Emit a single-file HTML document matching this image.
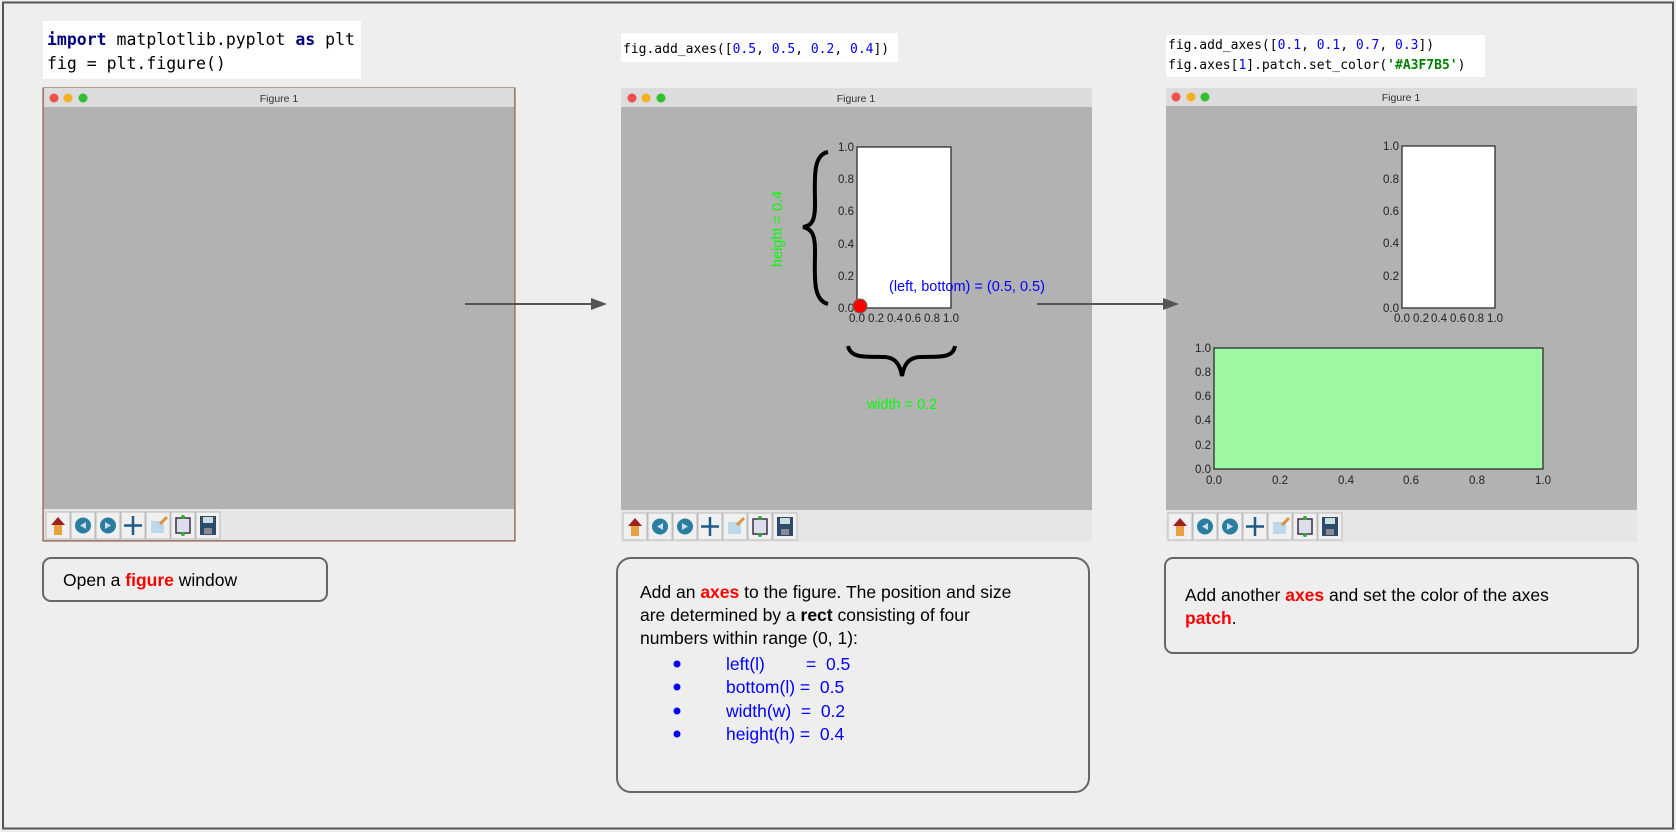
<!DOCTYPE html>
<html><head><meta charset="utf-8"><style>
html,body{margin:0;padding:0;background:#eeeeee;}
svg{display:block;}
text{white-space:pre;}
.m{font-family:"DejaVu Sans Mono","Liberation Mono",monospace;}
.s{font-family:"Liberation Sans",Arial,sans-serif;}
.tk{font-family:"Liberation Sans",Arial,sans-serif;font-size:11.5px;fill:#222;}
</style></head><body>
<svg width="1676" height="832" viewBox="0 0 1676 832" xmlns="http://www.w3.org/2000/svg" xml:space="preserve">
<defs>
<g id="tb">
  <rect x="0" y="0" width="24" height="27" fill="#f0f0f0" stroke="#bbb"/>
  <path d="M5 13 L12 5 L19 13 Z" fill="#a02020"/><rect x="8" y="13" width="8" height="10" fill="#e8a040"/>
  <rect x="25" y="0" width="24" height="27" fill="#f0f0f0" stroke="#bbb"/>
  <circle cx="37" cy="13.5" r="8" fill="#2a7fa0"/><path d="M40 10 L34 13.5 L40 17Z" fill="#cde"/>
  <rect x="50" y="0" width="24" height="27" fill="#f0f0f0" stroke="#bbb"/>
  <circle cx="62" cy="13.5" r="8" fill="#2a7fa0"/><path d="M59 10 L65 13.5 L59 17Z" fill="#cde"/>
  <rect x="75" y="0" width="24" height="27" fill="#f0f0f0" stroke="#bbb"/>
  <path d="M87 4 V23 M78 13.5 H96" stroke="#1e5a8a" stroke-width="2.5"/>
  <rect x="100" y="0" width="24" height="27" fill="#f0f0f0" stroke="#bbb"/>
  <rect x="105" y="9" width="13" height="12" fill="#bcd8ea"/><path d="M114 12 L121 5" stroke="#e09040" stroke-width="3"/>
  <rect x="125" y="0" width="24" height="27" fill="#f0f0f0" stroke="#bbb"/>
  <rect x="130" y="6" width="14" height="15" fill="#dde" stroke="#334" stroke-width="1.5"/><circle cx="137" cy="5" r="2" fill="#3a3"/><circle cx="137" cy="22" r="2" fill="#3a3"/>
  <rect x="150" y="0" width="24" height="27" fill="#f0f0f0" stroke="#bbb"/>
  <rect x="154" y="4" width="16" height="19" fill="#2c4a6a"/><rect x="157" y="5" width="10" height="6" fill="#cdd"/><rect x="158" y="16" width="8" height="6" fill="#889"/>
</g>
</defs>
<rect x="0" y="0" width="1676" height="832" fill="#eeeeee"/>
<rect x="3" y="2.5" width="1670" height="826" fill="none" stroke="#555" stroke-width="2"/>

<rect x="43" y="21" width="318" height="58" fill="#fff"/>
<text class="m" x="47" y="45" font-size="16.5"><tspan fill="#000080" font-weight="bold">import</tspan> matplotlib.pyplot <tspan fill="#000080" font-weight="bold">as</tspan> plt</text>
<text class="m" x="47" y="69" font-size="16.5">fig = plt.figure()</text>

<rect x="621" y="33" width="277" height="29" fill="#fff"/>
<text class="m" x="623" y="53" font-size="13">fig.add_axes([<tspan fill="#0000ff">0.5</tspan>, <tspan fill="#0000ff">0.5</tspan>, <tspan fill="#0000ff">0.2</tspan>, <tspan fill="#0000ff">0.4</tspan>])</text>

<rect x="1166" y="35" width="319" height="42" fill="#fff"/>
<text class="m" x="1168" y="49" font-size="13">fig.add_axes([<tspan fill="#0000ff">0.1</tspan>, <tspan fill="#0000ff">0.1</tspan>, <tspan fill="#0000ff">0.7</tspan>, <tspan fill="#0000ff">0.3</tspan>])</text>
<text class="m" x="1168" y="69" font-size="13">fig.axes[<tspan fill="#0000ff">1</tspan>].patch.set_color(<tspan fill="#008000" font-weight="bold">'#A3F7B5'</tspan>)</text>

<rect x="43" y="88" width="472" height="453" fill="#b2b2b2" stroke="#8a4a30" stroke-width="1"/>
<rect x="44" y="88" width="470" height="19" fill="#dcdcdc"/>
<circle cx="54" cy="98" r="4.5" fill="#f0504a"/><circle cx="68" cy="98" r="4.5" fill="#f4b020"/><circle cx="83" cy="98" r="4.5" fill="#30c030"/>
<text class="s" x="279" y="102" font-size="10.5" fill="#333" text-anchor="middle">Figure 1</text>
<rect x="44" y="509" width="470" height="31" fill="#e6e6e6"/>
<use href="#tb" x="46" y="512"/>

<rect x="621" y="88" width="471" height="454" fill="#b2b2b2"/>
<rect x="621" y="88" width="471" height="19" fill="#dcdcdc"/>
<circle cx="632" cy="98" r="4.5" fill="#f0504a"/><circle cx="646" cy="98" r="4.5" fill="#f4b020"/><circle cx="661" cy="98" r="4.5" fill="#30c030"/>
<text class="s" x="856" y="102" font-size="10.5" fill="#333" text-anchor="middle">Figure 1</text>
<rect x="621" y="510" width="471" height="32" fill="#e6e6e6"/>
<use href="#tb" x="623" y="513"/>

<rect x="857" y="147" width="94" height="161" fill="#fff" stroke="#222" stroke-width="1.2"/>
<g class="tk" text-anchor="end">
<text x="854" y="312">0.0</text><text x="854" y="280">0.2</text><text x="854" y="248">0.4</text><text x="854" y="215">0.6</text><text x="854" y="183">0.8</text><text x="854" y="151">1.0</text>
</g>
<g class="tk" text-anchor="middle">
<text x="857" y="322">0.0</text><text x="876" y="322">0.2</text><text x="895" y="322">0.4</text><text x="913" y="322">0.6</text><text x="932" y="322">0.8</text><text x="951" y="322">1.0</text>
</g>
<circle cx="860" cy="306" r="7" fill="#ff0000" stroke="#666" stroke-width="1"/>
<text class="s" x="889" y="291" font-size="14.5" fill="#0000ff">(left, bottom) = (0.5, 0.5)</text>
<path d="M828 152 C812 155 815 180 815 205 C815 220 812 226 803 227 C812 229 815 235 815 250 C815 275 812 300 828 304" fill="none" stroke="#000" stroke-width="4"/>
<text class="s" font-size="14.5" fill="#00ff00" text-anchor="middle" transform="translate(782 229) rotate(-90)">height = 0.4</text>
<path d="M848 346 C851 360 870 356 885 357 C896 358 900 365 902 376 C904 365 908 358 919 357 C934 356 953 360 955 346" fill="none" stroke="#000" stroke-width="4"/>
<text class="s" x="902" y="409" font-size="14.5" fill="#00ff00" text-anchor="middle">width = 0.2</text>

<rect x="1166" y="88" width="471" height="454" fill="#b2b2b2"/>
<rect x="1166" y="88" width="471" height="18" fill="#dcdcdc"/>
<circle cx="1176" cy="97" r="4.5" fill="#f0504a"/><circle cx="1191" cy="97" r="4.5" fill="#f4b020"/><circle cx="1205" cy="97" r="4.5" fill="#30c030"/>
<text class="s" x="1401" y="101" font-size="10.5" fill="#333" text-anchor="middle">Figure 1</text>
<rect x="1166" y="510" width="471" height="32" fill="#e6e6e6"/>
<use href="#tb" x="1168" y="513"/>

<rect x="1402" y="146" width="93" height="162" fill="#fff" stroke="#222" stroke-width="1.2"/>
<g class="tk" text-anchor="end">
<text x="1399" y="312">0.0</text><text x="1399" y="280">0.2</text><text x="1399" y="247">0.4</text><text x="1399" y="215">0.6</text><text x="1399" y="183">0.8</text><text x="1399" y="150">1.0</text>
</g>
<g class="tk" text-anchor="middle">
<text x="1402" y="322">0.0</text><text x="1421" y="322">0.2</text><text x="1439" y="322">0.4</text><text x="1458" y="322">0.6</text><text x="1476" y="322">0.8</text><text x="1495" y="322">1.0</text>
</g>

<rect x="1214" y="348" width="329" height="121" fill="#9cf8a2" stroke="#222" stroke-width="1.2"/>
<g class="tk" text-anchor="end">
<text x="1211" y="473">0.0</text><text x="1211" y="449">0.2</text><text x="1211" y="424">0.4</text><text x="1211" y="400">0.6</text><text x="1211" y="376">0.8</text><text x="1211" y="352">1.0</text>
</g>
<g class="tk" text-anchor="middle">
<text x="1214" y="484">0.0</text><text x="1280" y="484">0.2</text><text x="1346" y="484">0.4</text><text x="1411" y="484">0.6</text><text x="1477" y="484">0.8</text><text x="1543" y="484">1.0</text>
</g>

<line x1="465" y1="304" x2="592" y2="304" stroke="#555" stroke-width="2"/>
<path d="M607 304 L591 298 L591 310 Z" fill="#555"/>
<line x1="1037" y1="304" x2="1164" y2="304" stroke="#555" stroke-width="2"/>
<path d="M1179 304 L1163 298 L1163 310 Z" fill="#555"/>

<rect x="43" y="558" width="284" height="43" rx="8" fill="none" stroke="#666" stroke-width="2"/>
<text class="s" x="63" y="586" font-size="17.5">Open a <tspan fill="#ff0000" font-weight="bold">figure</tspan> window</text>

<rect x="617" y="558" width="472" height="234" rx="14" fill="none" stroke="#666" stroke-width="2"/>
<g class="s" font-size="17.5">
<text x="640" y="598">Add an <tspan fill="#ff0000" font-weight="bold">axes</tspan> to the figure. The position and size</text>
<text x="640" y="621">are determined by a <tspan font-weight="bold">rect</tspan> consisting of four</text>
<text x="640" y="644">numbers within range (0, 1):</text>
<g fill="#0000ff">
<circle cx="677" cy="664" r="3.5"/><circle cx="677" cy="687" r="3.5"/><circle cx="677" cy="711" r="3.5"/><circle cx="677" cy="734" r="3.5"/>
<text x="726" y="670">left(l)</text><text x="806" y="670">=  0.5</text>
<text x="726" y="693">bottom(l) =  0.5</text>
<text x="726" y="717">width(w)  =  0.2</text>
<text x="726" y="740">height(h) =  0.4</text>
</g>
</g>

<rect x="1165" y="558" width="473" height="95" rx="8" fill="none" stroke="#666" stroke-width="2"/>
<g class="s" font-size="17.5">
<text x="1185" y="601">Add another <tspan fill="#ff0000" font-weight="bold">axes</tspan> and set the color of the axes</text>
<text x="1185" y="624"><tspan fill="#ff0000" font-weight="bold">patch</tspan>.</text>
</g>
</svg>
</body></html>
